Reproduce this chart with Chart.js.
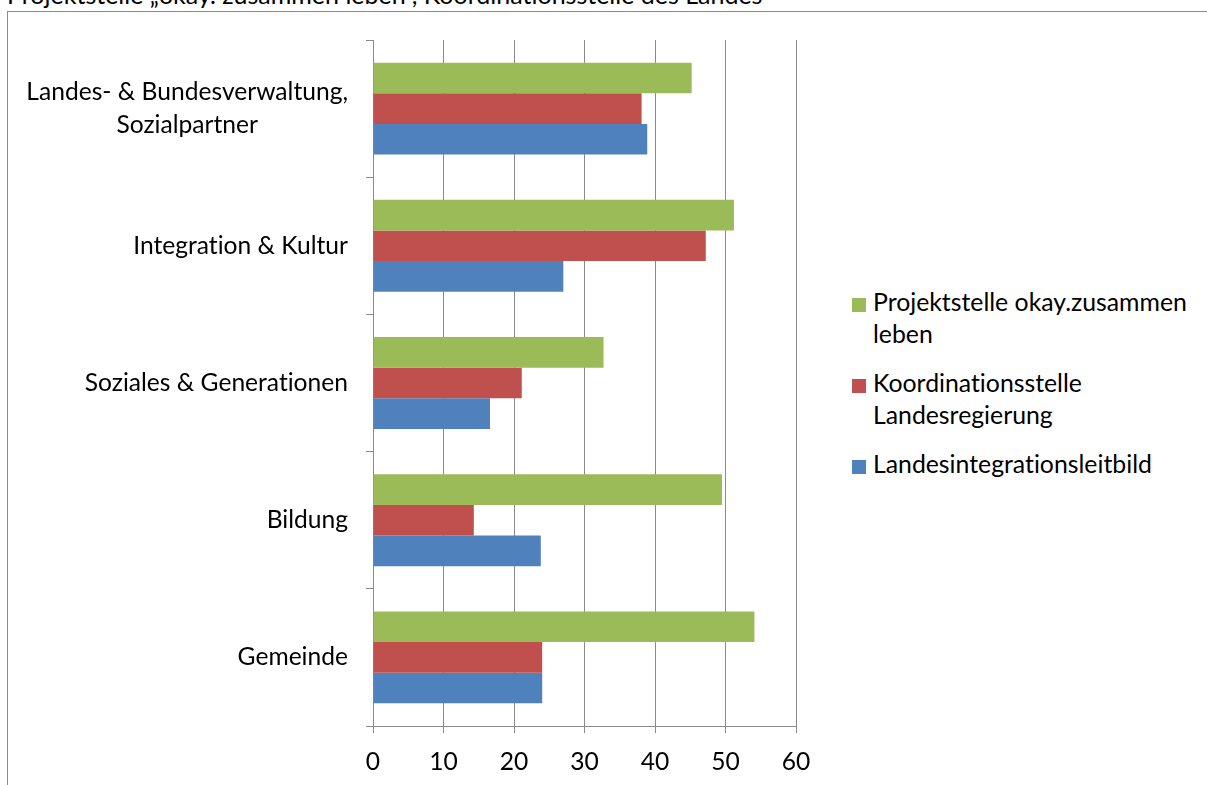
<!DOCTYPE html>
<html>
<head>
<meta charset="utf-8">
<script src="https://cdn.jsdelivr.net/npm/chart.js@4"></script>
<style>
  body { margin: 0; background: #fff; width: 1207px; height: 785px; overflow: hidden; position: relative; font-family: Lato, sans-serif; color: #000; font-variant-ligatures: none; }
  #title { position: absolute; left: 7px; top: -21px; font-size: 25px; line-height: 30px; white-space: nowrap; }
  #frame { position: absolute; left: 7px; top: 11px; width: 1300px; height: 900px; border-left: 1px solid #8a8a8a; border-top: 1px solid #8a8a8a; }
  #wrap { position: absolute; left: 0; top: 0; width: 830px; height: 785px; }
  #legend { position: absolute; left: 852px; top: 286px; width: 355px; font-size: 24.8px; line-height: 32px; white-space: nowrap; }
  .item { position: relative; padding-left: 21px; margin-bottom: 17px; }
  .box { position: absolute; left: 0; top: 12px; width: 14px; height: 14px; }
</style>
</head>
<body>
<div id="title">Projektstelle „okay. zusammen leben“, Koordinationsstelle des Landes</div>
<div id="frame"></div>
<div id="wrap"><canvas id="barChart"></canvas></div>
<div id="legend"></div>
<script>
// categories (top to bottom)
const categories = [
  ['Landes- & Bundesverwaltung,', 'Sozialpartner'],
  ['Integration & Kultur'],
  ['Soziales & Generationen'],
  ['Bildung'],
  ['Gemeinde']
]
const seriesNames = [
  ['Projektstelle okay.zusammen', 'leben'],
  ['Koordinationsstelle', 'Landesregierung'],
  ['Landesintegrationsleitbild']
]
const projektstelle = [45.2, 51.2, 32.7, 49.5, 54.1]
const koordination = [38.1, 47.2, 21.1, 14.3, 24.0]
const leitbild = [38.9, 27.0, 16.6, 23.8, 24.0]
const xTicks = [0, 10, 20, 30, 40, 50, 60]
const colors = ['#9BBB59', '#C0504D', '#4F81BD']

const gridGray = '#8a8a8a'
const fontFamily = 'Lato'
const fontSize = 24.6

// y labels drawn centred line by line, block right-aligned next to axis
const yLabelPlugin = {
  id: 'yLabels',
  afterDraw(chart) {
    const ctx = chart.ctx
    const yScale = chart.scales.y
    const right = 348
    const lh = 32.4
    ctx.save()
    ctx.font = fontSize + 'px ' + fontFamily
    ctx.textRendering = 'optimizeSpeed'
    ctx.fillStyle = '#000'
    ctx.textAlign = 'center'
    ctx.textBaseline = 'middle'
    categories.forEach(function(lines, i) {
      const y = yScale.getPixelForValue(i)
      const w = Math.max.apply(null, lines.map(l => ctx.measureText(l).width))
      const cx = right - w / 2
      const top = y - (lines.length - 1) * lh / 2
      lines.forEach(function(line, j) {
        ctx.fillText(line, cx, top + j * lh)
      })
    })
    ctx.restore()
  }
}

const data = [projektstelle, koordination, leitbild]
const ctxB = document.getElementById('barChart').getContext('2d')
const barChart = new Chart(ctxB, {
  type: 'bar',
  data: {
    labels: categories.map(c => c.join(' ')),
    datasets: seriesNames.map(function(name, i) {
      return {
        label: name.join(' '),
        data: data[i],
        backgroundColor: colors[i],
        borderWidth: 0,
        categoryPercentage: 0.67,
        barPercentage: 1.0
      }
    })
  },
  options: {
    indexAxis: 'y',
    responsive: true,
    maintainAspectRatio: false,
    animation: false,
    layout: { padding: { top: 40, right: 34, bottom: 0, left: 0 } },
    plugins: {
      legend: { display: false },
      tooltip: { enabled: false }
    },
    scales: {
      x: {
        min: 0,
        max: 60,
        afterFit: function(scale) { scale.height = 59 },
        afterBuildTicks: function(scale) { scale.ticks = xTicks.map(v => ({ value: v })) },
        ticks: {
          font: { family: fontFamily, size: fontSize },
          color: '#000',
          padding: 14
        },
        grid: { color: gridGray, lineWidth: 1, tickLength: 7, drawTicks: true },
        border: { display: true, color: gridGray, width: 1 }
      },
      y: {
        afterFit: function(scale) { scale.width = 373 },
        ticks: { display: false },
        grid: { offset: true, drawOnChartArea: false, color: gridGray, tickLength: 7 },
        border: { display: true, color: gridGray, width: 1 }
      }
    }
  },
  plugins: [yLabelPlugin]
})

// html legend
const legend = document.getElementById('legend')
seriesNames.forEach(function(name, i) {
  const item = document.createElement('div')
  item.className = 'item'
  const box = document.createElement('span')
  box.className = 'box'
  box.style.background = colors[i]
  item.appendChild(box)
  name.forEach(function(line, j) {
    if (j > 0) item.appendChild(document.createElement('br'))
    item.appendChild(document.createTextNode(line))
  })
  legend.appendChild(item)
})
</script>
</body>
</html>
